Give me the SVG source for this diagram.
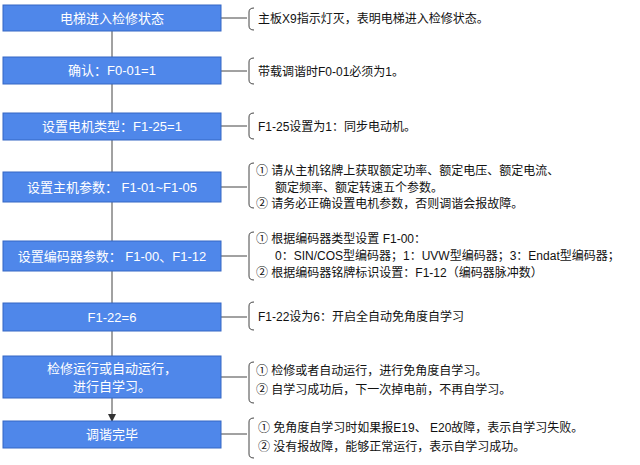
<svg xmlns="http://www.w3.org/2000/svg" width="640" height="465" viewBox="0 0 640 465">
<defs>
<marker id="a" markerWidth="8" markerHeight="8" refX="7" refY="4" orient="auto" markerUnits="userSpaceOnUse"><path d="M0,0 L8,4 L0,8 z" fill="#333"/></marker>
</defs>
<style>
.b{fill:#4f87ea;stroke:#3566c4;stroke-width:1}
.t{font-family:"Liberation Sans","Noto Sans CJK SC",sans-serif;font-size:13px;fill:#fff;text-anchor:middle}
.r{font-family:"Liberation Sans","Noto Sans CJK SC",sans-serif;font-size:12px;fill:#111}
.l{stroke:#444;stroke-width:1;fill:none}
</style>
<rect width="640" height="465" fill="#fff"/>
<g id="connectors">
<path class="l" marker-end="url(#a)" d="M112,31V57M112,84V113M112,140V172M112,202V241M112,271V303M112,331V356M112,398V421"/>
<path class="l" d="M221,18H247M221,71H247M221,126H247M221,187H247M221,256H247M221,317H247M221,377H247M221,434H247"/>
<path class="l" d="M254,8Q249,8 249,12V26Q249,30 254,30M254,58Q249,58 249,62V80Q249,84 254,84M254,113Q249,113 249,117V135Q249,139 254,139M254,163Q249,163 249,167V204Q249,208 254,208M254,232Q249,232 249,236V276Q249,280 254,280M254,302Q249,302 249,306V326Q249,330 254,330M254,362Q249,362 249,366V399Q249,403 254,403M254,418Q249,418 249,422V454Q249,458 254,458"/>
</g>
<g id="n1"><rect class="b" x="3" y="5" width="218" height="26"/><text class="t" x="112" y="23">电梯进入检修状态</text><text class="r" x="258" y="23">主板X9指示灯灭，表明电梯进入检修状态。</text></g>
<g id="n2"><rect class="b" x="3" y="57" width="218" height="27"/><text class="t" x="112" y="75">确认：F0-01=1</text><text class="r" x="258" y="76">带载调谐时F0-01必须为1。</text></g>
<g id="n3"><rect class="b" x="3" y="113" width="218" height="27"/><text class="t" x="112" y="131">设置电机类型：F1-25=1</text><text class="r" x="258" y="131">F1-25设置为1：同步电动机。</text></g>
<g id="n4"><rect class="b" x="3" y="172" width="218" height="30"/><text class="t" x="112" y="192">设置主机参数： F1-01~F1-05</text>
<text class="r" x="256" y="175">①  请从主机铭牌上获取额定功率、额定电压、额定电流、</text>
<text class="r" x="275" y="192">额定频率、额定转速五个参数。</text>
<text class="r" x="256" y="208">②  请务必正确设置电机参数，否则调谐会报故障。</text></g>
<g id="n5"><rect class="b" x="3" y="241" width="218" height="30"/><text class="t" x="112" y="261">设置编码器参数： F1-00、F1-12</text>
<text class="r" x="256" y="243">①  根据编码器类型设置 F1-00：</text>
<text class="r" x="275" y="260">0：SIN/COS型编码器；1：UVW型编码器；3：Endat型编码器；</text>
<text class="r" x="256" y="277">②  根据编码器铭牌标识设置：F1-12（编码器脉冲数）</text></g>
<g id="n6"><rect class="b" x="3" y="303" width="218" height="28"/><text class="t" x="112" y="322">F1-22=6</text><text class="r" x="258" y="321">F1-22设为6：开启全自动免角度自学习</text></g>
<g id="n7"><rect class="b" x="3" y="356" width="218" height="42"/><text class="t" x="112" y="373">检修运行或自动运行，</text><text class="t" x="112" y="391">进行自学习。</text>
<text class="r" x="256" y="375">①  检修或者自动运行，进行免角度自学习。</text>
<text class="r" x="256" y="394">②  自学习成功后，下一次掉电前，不再自学习。</text></g>
<g id="n8"><rect class="b" x="3" y="421" width="218" height="27"/><text class="t" x="112" y="439">调谐完毕</text>
<text class="r" x="258" y="432">①  免角度自学习时如果报E19、 E20故障，表示自学习失败。</text>
<text class="r" x="258" y="451">②  没有报故障，能够正常运行，表示自学习成功。</text></g>
</svg>
